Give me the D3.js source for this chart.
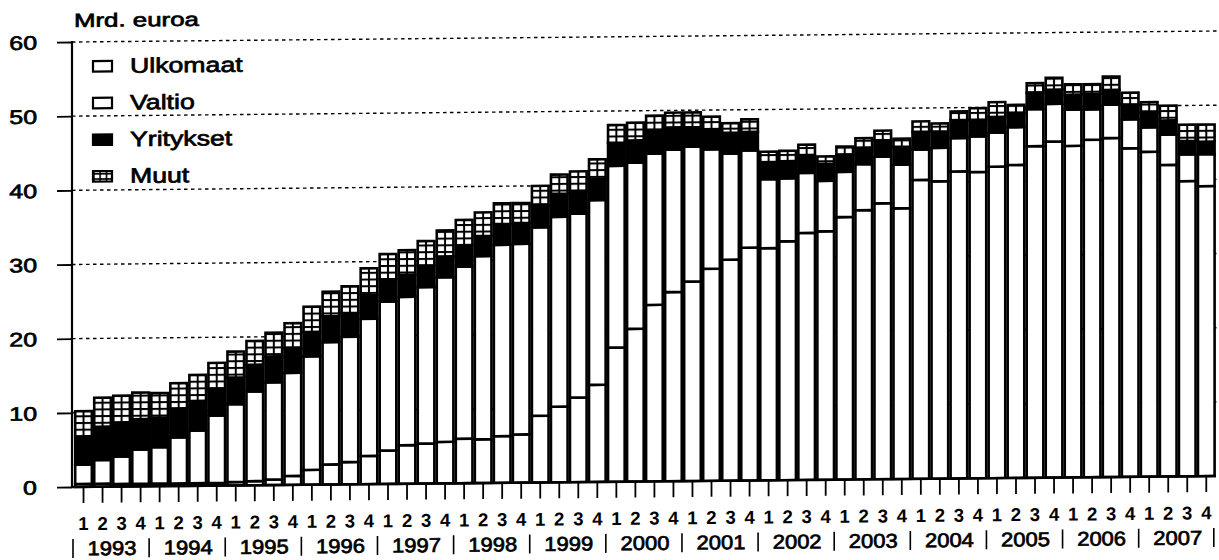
<!DOCTYPE html>
<html>
<head>
<meta charset="utf-8">
<script src="https://cdn.jsdelivr.net/npm/d3@7"></script>
<style>
  body { margin: 0; background: #fff; }
  svg { display: block; font-family: "Liberation Sans", Arial, sans-serif; }
</style>
</head>
<body>
<svg id="chart" width="1219" height="560"></svg>
<script>
// data (Mrd. euroa, quarterly)
const years = [1993, 1994, 1995, 1996, 1997, 1998, 1999, 2000, 2001, 2002, 2003, 2004, 2005, 2006, 2007];
const quarters = ['1', '2', '3', '4'];
const seriesNames = ['Ulkomaat', 'Valtio', 'Yritykset', 'Muut'];
const yTicks = [0, 10, 20, 30, 40, 50, 60];

const ulkomaat = [
  0.4, 0.4, 0.35, 0.35, 0.35, 0.35, 0.35, 0.35, 0.45, 0.55,
  0.75, 1.2, 2.0, 2.7, 3.0, 3.8, 4.5, 5.2, 5.4, 5.6,
  6.0, 5.9, 6.3, 6.5, 9.0, 10.2, 11.4, 13.1, 18.1, 20.6,
  23.8, 25.5, 26.9, 28.6, 29.8, 31.4, 31.3, 32.2, 33.3, 33.5,
  35.4, 36.3, 37.2, 36.5, 40.3, 40.1, 41.4, 41.3, 42.0, 42.2,
  44.7, 45.3, 44.7, 45.5, 45.7, 44.3, 43.8, 42.0, 39.8, 39.1,
];
const valtio = [
  2.6, 3.2, 3.7, 4.6, 4.9, 6.2, 7.1, 9.1, 10.5, 12.1,
  13.1, 13.9, 15.3, 16.5, 16.9, 18.5, 20.1, 20.0, 21.1, 22.2,
  23.2, 24.7, 25.8, 25.7, 25.4, 25.6, 24.8, 24.9, 24.5, 22.4,
  20.4, 19.2, 18.2, 16.1, 14.3, 13.1, 9.3, 8.5, 8.1, 6.8,
  6.1, 6.2, 6.3, 5.9, 4.1, 4.5, 4.5, 4.8, 4.6, 5.1,
  5.0, 5.1, 4.9, 4.1, 4.5, 3.9, 3.3, 4.1, 3.6, 4.3,
];
const yritykset = [
  3.8, 4.5, 4.6, 4.1, 4.0, 3.9, 4.0, 3.6, 3.6, 3.6,
  3.5, 3.3, 3.3, 3.5, 3.2, 3.2, 3.0, 3.0, 2.9, 2.8,
  2.9, 2.7, 2.8, 2.8, 2.9, 3.1, 3.0, 2.9, 3.1, 3.0,
  3.0, 3.0, 2.6, 2.7, 2.8, 2.5, 2.2, 2.3, 2.3, 2.3,
  2.3, 2.2, 2.2, 2.4, 2.4, 2.2, 2.4, 2.2, 2.1, 1.9,
  2.2, 1.9, 2.0, 2.1, 2.0, 2.0, 2.0, 1.9, 1.8, 1.7,
];
const muut = [
  3.4, 3.9, 3.6, 3.6, 3.3, 3.4, 3.5, 3.5, 3.5, 3.2,
  3.2, 3.4, 3.4, 3.3, 3.6, 3.6, 3.4, 3.3, 3.3, 3.5,
  3.4, 3.2, 2.8, 2.7, 2.7, 2.6, 2.7, 2.6, 2.4, 2.4,
  2.1, 2.0, 2.0, 1.7, 1.3, 1.7, 1.5, 1.4, 1.5, 1.0,
  1.1, 1.3, 1.3, 1.1, 1.4, 1.1, 1.2, 1.6, 2.0, 1.1,
  1.3, 1.6, 1.4, 1.3, 1.8, 1.6, 1.4, 2.0, 2.2, 2.3,
];

const AXIS_X = 72;
const BASE_Y = 487;
const TOP_Y = 42;
const PITCH = 19.03;
const STROKE = 2.6;
// the scan is slightly skewed: right side sits higher
const SKEW = 0.0096;

const periods = years.flatMap((yr) => quarters.map((q) => `${yr}-${q}`));
const rows = periods.map((p, i) => ({
  period: p,
  Ulkomaat: ulkomaat[i],
  Valtio: valtio[i],
  Yritykset: yritykset[i],
  Muut: muut[i],
}));
const stacked = d3.stack().keys(seriesNames)(rows);

const x = d3
  .scaleBand()
  .domain(periods)
  .range([74, 74 + PITCH * periods.length]);
const y = d3.scaleLinear().domain([0, 60]).range([BASE_Y, TOP_Y]);

const svg = d3.select('#chart');
const defs = svg.append('defs');

// grid fill for "Muut"
const pat = defs
  .append('pattern')
  .attr('id', 'grid')
  .attr('patternUnits', 'userSpaceOnUse')
  .attr('x', 74)
  .attr('y', 0)
  .attr('width', PITCH)
  .attr('height', 6.7);
pat.append('rect').attr('width', PITCH).attr('height', 6.7).attr('fill', '#fff');
pat.append('rect').attr('x', PITCH / 2 - 1).attr('width', 2).attr('height', 6.7).attr('fill', '#000');
pat.append('rect').attr('width', PITCH).attr('height', 2).attr('fill', '#000');

const fills = { Ulkomaat: '#fff', Valtio: '#fff', Yritykset: '#000', Muut: 'url(#grid)' };

const chart = svg
  .append('g')
  .attr('transform', `matrix(1,${-SKEW},0,1,0,${SKEW * AXIS_X})`);

// stretched, slightly heavier text (the scan is wider than tall)
const addText = (parent, tx, ty, str, size, sx, anchor, weight) =>
  parent
    .append('text')
    .attr('transform', `translate(${tx},${ty}) scale(${sx},1)`)
    .attr('text-anchor', anchor || 'start')
    .style('font-size', `${size}px`)
    .style('font-weight', weight || 'normal')
    .attr('fill', '#000')
    .attr('stroke', '#000')
    .attr('stroke-width', 0.7)
    .text(str);

// gridlines
chart
  .selectAll('.gridline')
  .data(yTicks.filter((t) => t > 0))
  .enter()
  .append('line')
  .classed('gridline', true)
  .attr('x1', AXIS_X)
  .attr('x2', 1219)
  .attr('y1', (d) => y(d))
  .attr('y2', (d) => y(d))
  .attr('stroke', '#000')
  .attr('stroke-width', 1.4)
  .attr('stroke-dasharray', '3.5,3.5');

// bars
chart
  .selectAll('.series')
  .data(stacked)
  .enter()
  .append('g')
  .classed('series', true)
  .attr('fill', (d) => fills[d.key])
  .selectAll('rect')
  .data((d) => d)
  .enter()
  .append('rect')
  .attr('x', (d) => x(d.data.period) + 1.2)
  .attr('width', x.bandwidth() - 2.4)
  .attr('y', (d) => y(d[1]))
  .attr('height', (d) => y(d[0]) - y(d[1]))
  .attr('stroke', '#000')
  .attr('stroke-width', STROKE);

// y axis
const yAxis = chart
  .append('g')
  .attr('transform', `translate(${AXIS_X},0)`)
  .call(d3.axisLeft(y).tickValues(yTicks).tickSize(15).tickFormat(d3.format('d')));
yAxis.select('.domain').remove();
yAxis.selectAll('.tick line').attr('stroke', '#000').attr('stroke-width', 1.8);
yAxis.selectAll('.tick text').remove();
yAxis.selectAll('.tick').each(function (d) {
  addText(d3.select(this), -35, 0, d, 19.5, 1.28, 'end').attr('dy', '0.35em');
});
chart
  .append('line')
  .attr('x1', AXIS_X)
  .attr('x2', AXIS_X)
  .attr('y1', TOP_Y - 1)
  .attr('y2', BASE_Y + 1)
  .attr('stroke', '#000')
  .attr('stroke-width', 2.2);

// x axis
const xAxis = chart
  .append('g')
  .attr('transform', `translate(0,${BASE_Y})`)
  .call(d3.axisBottom(x).tickSize(16).tickSizeOuter(0).tickPadding(14).tickFormat((p) => p.slice(-1)));
xAxis.select('.domain').remove();
xAxis.selectAll('.tick line').attr('stroke', '#000').attr('stroke-width', 1.8);
xAxis
  .selectAll('.tick text')
  .attr('fill', '#000')
  .style('font-size', '18.5px')
  .style('font-weight', 'bold')
  .style('font-family', '"Liberation Sans", Arial, sans-serif');
chart
  .append('line')
  .attr('x1', AXIS_X)
  .attr('x2', x.range()[1])
  .attr('y1', BASE_Y)
  .attr('y2', BASE_Y)
  .attr('stroke', '#000')
  .attr('stroke-width', 2.4);

// years and separators
const yearRow = chart.append('g');
years.forEach((yr, j) => {
  const first = x(periods[j * 4]);
  const last = x(periods[j * 4 + 3]) + x.bandwidth();
  addText(yearRow, (first + last) / 2, 555.5, yr, 20, 1.1, 'middle');
  yearRow
    .append('line')
    .attr('x1', first - 1)
    .attr('x2', first - 1)
    .attr('y1', 539)
    .attr('y2', 558)
    .attr('stroke', '#000')
    .attr('stroke-width', 1.6);
});
yearRow
  .append('line')
  .attr('x1', x.range()[1] - 2)
  .attr('x2', x.range()[1] - 2)
  .attr('y1', 539)
  .attr('y2', 558)
  .attr('stroke', '#000')
  .attr('stroke-width', 1.6);

// unit label
addText(chart, 74, 27, 'Mrd. euroa', 19, 1.36);

// legend
const LEGEND_X = 93;
const legendIcon = defs
  .append('pattern')
  .attr('id', 'gridIcon')
  .attr('patternUnits', 'userSpaceOnUse')
  .attr('x', LEGEND_X)
  .attr('y', 0)
  .attr('width', 6.33)
  .attr('height', 5.25);
legendIcon.append('rect').attr('width', 6.33).attr('height', 5.25).attr('fill', '#fff');
legendIcon.append('rect').attr('width', 1.6).attr('height', 5.25).attr('fill', '#000');
legendIcon.append('rect').attr('width', 6.33).attr('height', 1.6).attr('fill', '#000');

const legend = chart.append('g');
seriesNames.forEach((name, i) => {
  const base = 73.3 + i * 36.7;
  legend
    .append('rect')
    .attr('x', LEGEND_X)
    .attr('y', base - 12)
    .attr('width', 19)
    .attr('height', 10.5)
    .attr('fill', name === 'Muut' ? 'url(#gridIcon)' : fills[name])
    .attr('stroke', '#000')
    .attr('stroke-width', 2.2);
  addText(legend, 130, base, name, 21, 1.27);
});
</script>
</body>
</html>
